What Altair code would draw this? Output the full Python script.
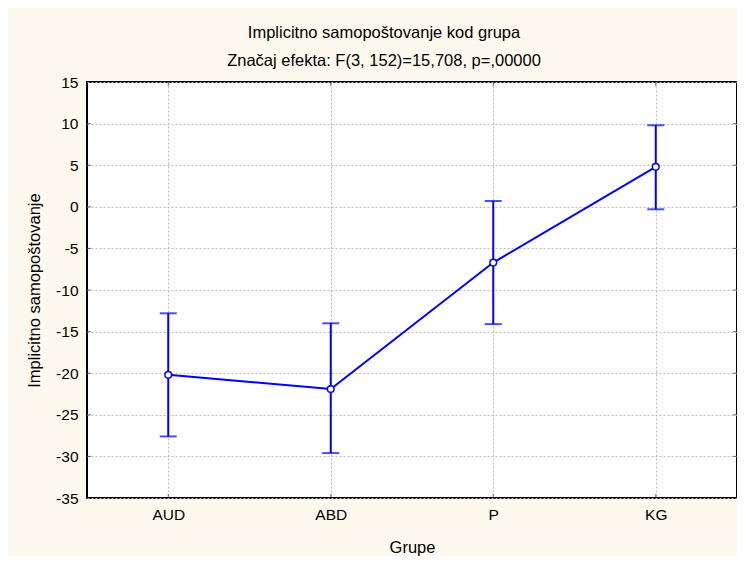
import altair as alt
import pandas as pd

groups = ["AUD", "ABD", "P", "KG"]
means = [-20.2, -21.9, -6.7, 4.8]
upper = [-12.8, -14.0, 0.7, 9.8]
lower = [-27.6, -29.6, -14.1, -0.3]
y_ticks = [-35, -30, -25, -20, -15, -10, -5, 0, 5, 10, 15]

df = pd.DataFrame({"Grupe": groups, "mean": means, "lo": lower, "hi": upper})
df_ticks = pd.DataFrame({"v": y_ticks})

FONT = "Liberation Sans"
BLUE = "#0000FF"

x = alt.X("Grupe:N", sort=groups,
          scale=alt.Scale(type="point", padding=0.5),
          axis=alt.Axis(title="Grupe", labelAngle=0, labelPadding=9, tickSize=0,
                        titlePadding=17, grid=True))
y_scale = alt.Scale(domain=[-35, 15], nice=False, zero=False)

base = alt.Chart(df)

rules = base.mark_rule(color=BLUE, strokeWidth=2).encode(
    x=x,
    y=alt.Y("lo:Q", scale=y_scale,
            axis=alt.Axis(title="Implicitno samopoštovanje", values=y_ticks,
                          labelExpr="'' + datum.value",
                          tickSize=0, labelPadding=9, titlePadding=13, grid=True)),
    y2="hi:Q",
)
cap_lo = base.mark_tick(color=BLUE, size=17, thickness=2).encode(x=x, y=alt.Y("lo:Q", scale=y_scale))
cap_hi = base.mark_tick(color=BLUE, size=17, thickness=2).encode(x=x, y=alt.Y("hi:Q", scale=y_scale))
line = base.mark_line(color=BLUE, strokeWidth=2).encode(x=x, y=alt.Y("mean:Q", scale=y_scale))
pts = base.mark_point(shape="circle", filled=True, fill="white", stroke=BLUE, strokeWidth=1.5,
                      size=45, opacity=1).encode(x=x, y=alt.Y("mean:Q", scale=y_scale))

# small inward tick marks on the frame
tk = dict(color="#333333", size=4, thickness=1)
yt_left = alt.Chart(df_ticks).mark_tick(orient="horizontal", xOffset=2, **tk).encode(
    y=alt.Y("v:Q", scale=y_scale), x=alt.value(0))
yt_right = alt.Chart(df_ticks).mark_tick(orient="horizontal", xOffset=-2, **tk).encode(
    y=alt.Y("v:Q", scale=y_scale), x=alt.value("width"))
xt_bottom = base.mark_tick(orient="vertical", yOffset=-2, **tk).encode(x=x, y=alt.value("height"))
xt_top = base.mark_tick(orient="vertical", yOffset=2, **tk).encode(x=x, y=alt.value(0))

chart = alt.layer(rules, cap_lo, cap_hi, line, pts, yt_left, yt_right, xt_bottom, xt_top).properties(
    width=650, height=416,
    title=alt.TitleParams(
        text=["Implicitno samopoštovanje kod grupa", "Značaj efekta: F(3, 152)=15,708, p=,00000"],
        font=FONT, fontSize=16.5, fontWeight="normal", color="black",
        anchor="middle", lineHeight=28, offset=6, dx=-28),
    padding={"left": 18, "top": 16, "right": 0, "bottom": 0},
    background="#FEF9EE",
).configure_view(
    fill="white", stroke="black", strokeWidth=2,
).configure_axis(
    labelFont=FONT, titleFont=FONT, labelFontSize=15.5, titleFontSize=16.5,
    labelColor="black", titleColor="black", titleFontWeight="normal",
    gridColor="#BBBBBB", gridDash=[2, 2], gridWidth=1, domain=False,
)

chart.save("out.html", embed_options={"renderer": "svg", "actions": False})
